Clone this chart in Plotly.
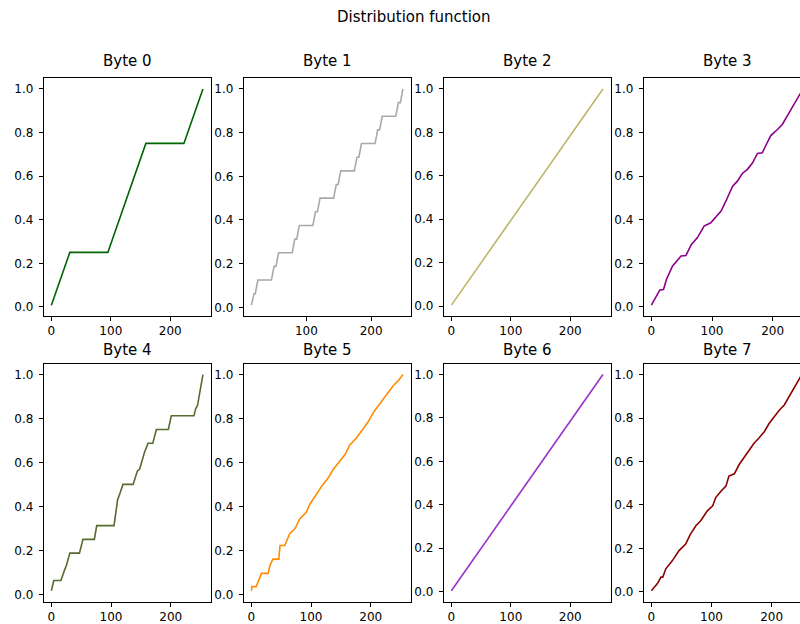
import plotly.graph_objects as go

# ---------------- data ----------------
titles = ["Byte 0", "Byte 1", "Byte 2", "Byte 3", "Byte 4", "Byte 5", "Byte 6", "Byte 7"]
colors = ["#006400", "#a9a9a9", "#bdb76b", "#8b008b", "#556b2f", "#ff8c00", "#9932cc", "#8b0000"]

x0 = [0, 31, 95, 159, 223, 255]
y0 = [0.008, 0.25, 0.25, 0.75, 0.75, 1.0]

x1 = [15, 19, 21, 25, 46, 50, 53, 57, 78, 82, 85, 89, 110, 114, 117, 121,
      142, 146, 149, 153, 174, 178, 181, 185, 206, 210, 213, 217, 238, 242, 245, 249]
y1 = [0.01, 0.0625, 0.0625, 0.125, 0.125, 0.1875, 0.1875, 0.25, 0.25, 0.3125, 0.3125, 0.375,
      0.375, 0.4375, 0.4375, 0.5, 0.5, 0.5625, 0.5625, 0.625, 0.625, 0.6875, 0.6875, 0.75,
      0.75, 0.8125, 0.8125, 0.875, 0.875, 0.9375, 0.9375, 1.0]

x2 = [0, 255]
y2 = [0.004, 1.0]

x3 = [0, 8, 14, 20, 25, 35, 49, 57, 66, 76, 87, 98, 107, 115, 123, 134, 142, 150, 158, 167,
      175, 183, 191, 197, 208, 216, 224, 232, 242, 246, 250]
y3 = [0.008, 0.05, 0.078, 0.08, 0.127, 0.188, 0.234, 0.236, 0.287, 0.318, 0.371, 0.386, 0.417,
      0.44, 0.486, 0.554, 0.577, 0.612, 0.63, 0.661, 0.704, 0.707, 0.753, 0.786, 0.814, 0.837,
      0.875, 0.913, 0.96, 0.985, 1.0]

x4 = [0, 4, 16, 19, 22, 25, 28, 31, 47, 53, 72, 76, 105, 108, 111, 115, 120, 137, 140, 144,
      148, 152, 156, 162, 170, 176, 196, 201, 239, 242, 245, 254]
y4 = [0.016, 0.0625, 0.0625, 0.09, 0.11, 0.13, 0.16, 0.1875, 0.1875, 0.25, 0.25, 0.3125,
      0.3125, 0.38, 0.43, 0.46, 0.5, 0.5, 0.53, 0.56, 0.57, 0.61, 0.645, 0.6875, 0.6875,
      0.75, 0.75, 0.8125, 0.8125, 0.845, 0.86, 1.0]

x5 = [0, 1, 8, 13, 17, 28, 31, 36, 46, 48, 56, 64, 73, 81, 92, 98, 109, 120, 129, 137,
      148, 157, 165, 176, 188, 196, 205, 216, 227, 238, 247, 254]
y5 = [0.016, 0.035, 0.035, 0.07, 0.095, 0.095, 0.13, 0.16, 0.16, 0.222, 0.222, 0.275, 0.298,
      0.343, 0.373, 0.41, 0.456, 0.5, 0.53, 0.568, 0.606, 0.636, 0.68, 0.711, 0.756, 0.786,
      0.83, 0.87, 0.906, 0.95, 0.974, 1.0]

x6 = [0, 255]
y6 = [0.004, 1.0]

x7 = [0, 10, 16, 19, 24, 35, 46, 57, 65, 74, 82, 93, 102, 107, 116, 124, 129, 138, 146, 154,
      163, 171, 179, 188, 196, 204, 213, 221, 229, 238, 248, 252]
y7 = [0.005, 0.038, 0.068, 0.068, 0.106, 0.144, 0.19, 0.22, 0.266, 0.304, 0.327, 0.373,
      0.396, 0.434, 0.464, 0.487, 0.533, 0.543, 0.586, 0.616, 0.654, 0.685, 0.708, 0.738,
      0.776, 0.807, 0.837, 0.86, 0.90, 0.94, 0.99, 1.0]

xs = [x0, x1, x2, x3, x4, x5, x6, x7]
ys = [y0, y1, y2, y3, y4, y5, y6, y7]

suptitle = "Distribution function"
x_tick_step = 100
y_tick_step = 0.2

# ---------------- layout (pixels, in screen coordinates) ----------------
W, H = 800, 624
col_left = [43.8, 243.8, 443.8, 643.8]
ax_w = 166.7
row_top = [78.5, 365.5]
ax_h = 239.0
title_gap = [6, 3]
FONT = "DejaVu Sans"


def fx(px):
    return px / W


def fy(py):
    return 1 - py / H


fig = go.Figure()
annotations = []

for i in range(8):
    r, c = divmod(i, 4)
    n = i + 1
    xa = "x" if n == 1 else f"x{n}"
    ya = "y" if n == 1 else f"y{n}"
    fig.add_trace(go.Scatter(x=xs[i], y=ys[i], mode="lines",
                             line=dict(color=colors[i], width=1.6),
                             xaxis=xa, yaxis=ya, showlegend=False, hoverinfo="skip"))
    xmin, xmax = min(xs[i]), max(xs[i])
    ymin, ymax = min(ys[i]), max(ys[i])
    sx = xmax - xmin
    sy = ymax - ymin
    xr = [xmin - 0.05 * sx, xmax + 0.05 * sx]
    yr = [ymin - 0.05 * sy, ymax + 0.05 * sy]
    left = col_left[c]
    right = left + ax_w
    clipped = right > W
    if clipped:
        frac = (W - left) / ax_w
        xr = [xr[0], xr[0] + frac * (xr[1] - xr[0])]
        dom_x = [fx(left), 1.0]
    else:
        dom_x = [fx(left), fx(right)]
    top = row_top[r]
    bot = top + ax_h
    dom_y = [fy(bot), fy(top)]
    common = dict(showline=True, linecolor="#000000", linewidth=0.9,
                  ticks="outside", ticklen=4, tickwidth=0.9, tickcolor="#000000",
                  showgrid=False, zeroline=False,
                  tickfont=dict(family=FONT, size=12, color="#000000"))
    fig.layout[f"xaxis{'' if n == 1 else n}"] = dict(
        domain=dom_x, range=xr, anchor=ya, tick0=0, dtick=x_tick_step,
        mirror=True, **common)
    fig.layout[f"yaxis{'' if n == 1 else n}"] = dict(
        domain=dom_y, range=yr, anchor=xa, tick0=0, dtick=y_tick_step,
        tickformat=".1f", mirror=(not clipped), ticklabelstandoff=3, **common)
    annotations.append(dict(text=titles[i], x=fx((left + right) / 2), xref="paper",
                            y=fy(top - title_gap[r]), yref="paper", xanchor="center",
                            yanchor="bottom", showarrow=False,
                            font=dict(family=FONT, size=15, color="#000000")))

annotations.append(dict(text=suptitle, x=fx(413.5), xref="paper", y=fy(17), yref="paper",
                        xanchor="center", yanchor="middle", showarrow=False,
                        font=dict(family=FONT, size=15, color="#000000")))

fig.update_layout(width=W, height=H, margin=dict(l=0, r=0, t=0, b=0),
                  paper_bgcolor="white", plot_bgcolor="white",
                  annotations=annotations, showlegend=False)

fig.write_html(
    "out.html", config={"displayModeBar": False},
    post_script="document.body.style.margin='0';document.body.style.overflow='hidden';")
